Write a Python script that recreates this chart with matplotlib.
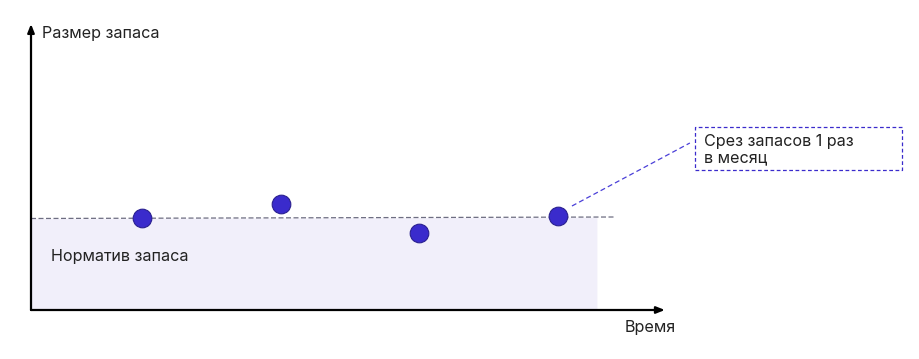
import matplotlib.pyplot as plt
from matplotlib.patches import Rectangle

plt.rcParams['font.family'] = ['Inter', 'DejaVu Sans']

# data
months = [1, 2, 3, 4]
stock = [9.2, 10.6, 7.7, 9.4]
norm_x = [0.2, 4.41]
norm_y = [9.15, 9.3]
fill_x = [0.2, 4.28]
fill_y = [9.15, 9.28]

fs = 11.6
txt_color = '#222222'

fig = plt.figure(figsize=(9.19, 3.59), dpi=100)
ax = fig.add_axes([0, 0, 1, 1])
ax.set_xlim(-0.0235, 6.602)
ax.set_ylim(-4.9, 31)
ax.axis('off')

# norm zone
ax.fill_between(fill_x, 0, fill_y, color='#f1effa', lw=0, zorder=1)
ax.plot(norm_x, norm_y, ls=(0, (4, 2)), color='#6e6e82', lw=0.9, zorder=2)

# axes arrows
for end in [(4.77, 0), (0.2, 28.6)]:
    ax.annotate('', xy=end, xytext=(0.2, 0),
                arrowprops=dict(arrowstyle='-|>,head_length=0.5,head_width=0.2',
                                color='black', lw=1.6, shrinkA=0, shrinkB=0), zorder=3)

# points
ax.scatter(months, stock, s=180, color='#3a2bcc', edgecolor='#2a2090', lw=0.8, zorder=4)

# callout
ax.plot([4.1, 4.95], [10.4, 16.7], ls=(0, (4, 2.5)), color='#4a3fd8', lw=0.9, zorder=3)
ax.add_patch(Rectangle((4.987, 14.0), 1.49, 4.3, fc='white', ec='#3a2bcc', lw=0.9,
                       ls=(0, (3, 2)), zorder=5))
ax.text(5.052, 16.4, 'Срез запасов 1 раз', fontsize=fs, color=txt_color,
        va='baseline', ha='left', zorder=6)
ax.text(5.052, 14.8, 'в месяц', fontsize=fs, color=txt_color,
        va='baseline', ha='left', zorder=6)

ax.text(0.279, 27.2, 'Размер запаса', fontsize=fs, color=txt_color, va='baseline', ha='left')
ax.text(4.85, -2.2, 'Время', fontsize=fs, color=txt_color, va='baseline', ha='right')
ax.text(0.345, 4.9, 'Норматив запаса', fontsize=fs, color=txt_color, va='baseline', ha='left')

fig.savefig('out.png', dpi=100)
